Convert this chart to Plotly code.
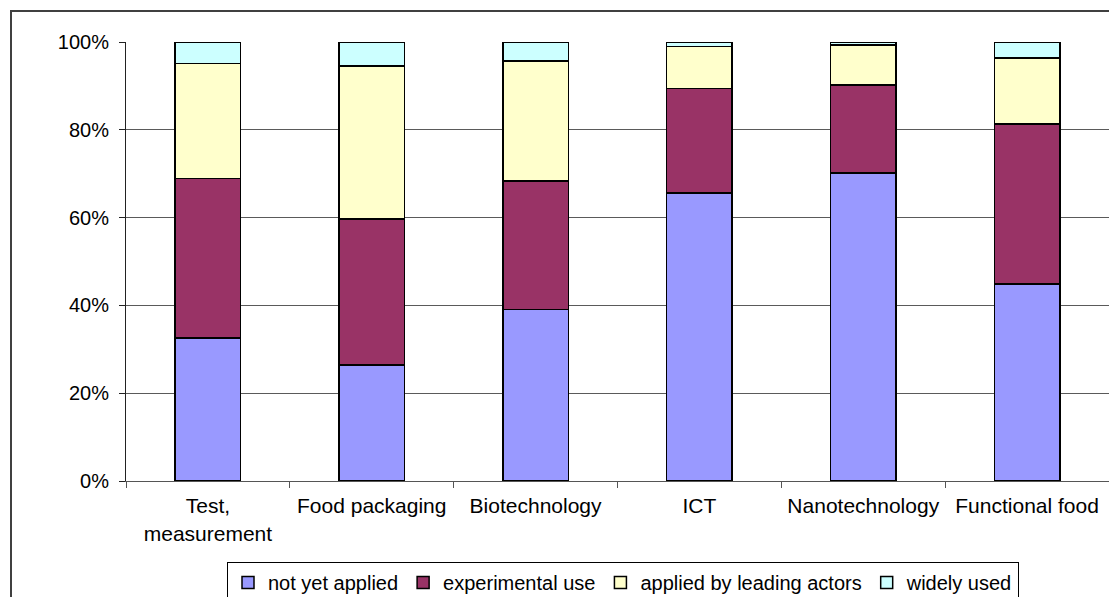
import plotly.graph_objects as go

categories = ["Test,<br>measurement", "Food packaging", "Biotechnology", "ICT", "Nanotechnology", "Functional food"]
not_yet_applied = [32.6, 26.4, 39.1, 65.6, 70.2, 44.9]
experimental_use = [36.3, 33.3, 29.2, 23.8, 20.0, 36.4]
applied_by_leading = [26.2, 34.8, 27.4, 9.6, 9.1, 15.1]
widely_used = [4.9, 5.5, 4.3, 1.0, 0.7, 3.6]

series = [
    ("not yet applied", not_yet_applied, "#9999FF"),
    ("experimental use", experimental_use, "#993366"),
    ("applied by leading actors", applied_by_leading, "#FFFFCC"),
    ("widely used", widely_used, "#CCFFFF"),
]

FONT = "Liberation Sans, Arial, sans-serif"

fig = go.Figure()
for name, vals, color in series:
    fig.add_trace(go.Bar(
        x=categories, y=vals, name=name,
        marker=dict(color=color, line=dict(color="black", width=1.5)),
    ))

W, H = 1109, 597
L, R, T, B = 126, 0, 42, 116
pw = W - L - R
ph = H - T - B

fig.update_layout(
    width=W, height=H,
    margin=dict(l=L, r=R, t=T, b=B, autoexpand=False),
    barmode="stack",
    bargap=0.6,
    plot_bgcolor="white",
    paper_bgcolor="white",
    font=dict(family=FONT, size=20, color="black"),
    showlegend=True,
    legend=dict(
        orientation="h",
        x=(227 - L) / pw, xanchor="left",
        y=-(562 - (T + ph)) / ph, yanchor="top",
        bordercolor="black", borderwidth=1,
        font=dict(family=FONT, size=20, color="black"),
        traceorder="normal",
        itemclick=False,
        tracegroupgap=0,
    ),
    xaxis=dict(
        automargin=False,
        showline=True, linecolor="#555555", linewidth=1,
        ticks="outside", ticklen=6, tickcolor="#555555",
        tickson="boundaries",
        showgrid=False,
        ticklabelstandoff=6,
        tickfont=dict(family=FONT, size=21, color="black"),
    ),
    yaxis=dict(
        automargin=False,
        range=[0, 100],
        dtick=20,
        ticksuffix="%",
        showline=True, linecolor="#222222", linewidth=1,
        ticks="outside", ticklen=6, tickcolor="#222222",
        showgrid=True, gridcolor="#5a5a5a", gridwidth=1,
        ticklabelstandoff=6,
        tickfont=dict(family=FONT, size=20, color="black"),
        zeroline=False,
    ),
)

# outer chart-area border (extends beyond the window on right and bottom)
fig.add_shape(
    type="rect", xref="paper", yref="paper",
    x0=(11 - L) / pw, x1=1.1,
    y0=-(640 - (T + ph)) / ph, y1=((T + ph) - 11) / ph,
    line=dict(color="#404040", width=2),
    fillcolor="rgba(0,0,0,0)",
    layer="below",
)

fig.write_html(
    "out.html",
    config={"displayModeBar": False},
    post_script="document.body.style.margin='0';document.body.style.overflow='hidden';",
)
